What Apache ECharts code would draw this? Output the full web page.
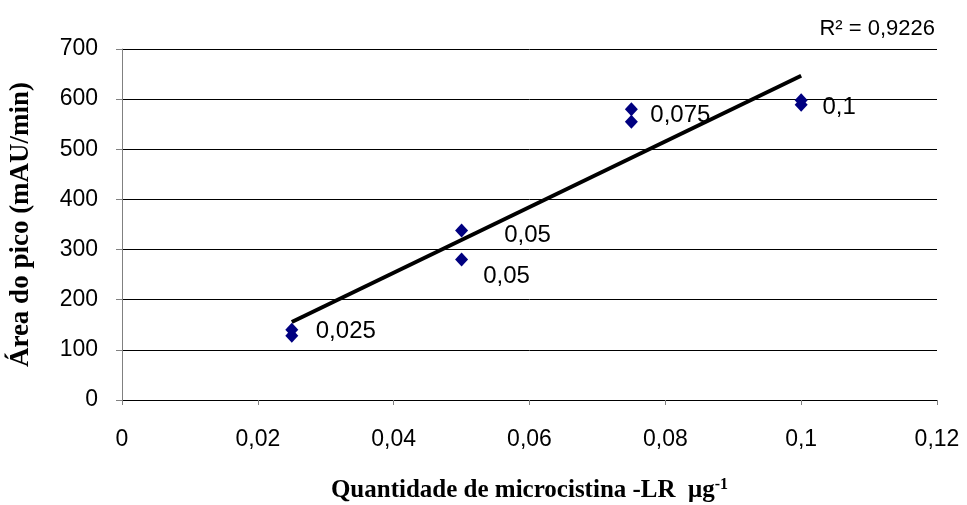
<!DOCTYPE html>
<html><head><meta charset="utf-8">
<script src="https://cdn.jsdelivr.net/npm/echarts@6/dist/echarts.min.js"></script>
<style>html,body{margin:0;padding:0;background:#fff}#c{width:967px;height:505px}</style>
</head><body><div id="c"></div>
<script>
const xValues = [0.025, 0.025, 0.05, 0.05, 0.075, 0.075, 0.1, 0.1];
const yValues = [140, 128, 338, 280, 580, 555, 598, 589];
const pointLabels = ['', '0,025', '0,05', '0,05', '0,075', '', '0,1', ''];
const labelOffsets = [[0,0],[54,-4],[66,5],[45,17],[49,6],[0,0],[38,7],[0,0]];
const r2Text = 'R² = 0,9226';

// linear regression
const n = xValues.length;
const mx = xValues.reduce((a,b)=>a+b,0)/n, my = yValues.reduce((a,b)=>a+b,0)/n;
let sxy=0, sxx=0;
for (let i=0;i<n;i++){ sxy+=(xValues[i]-mx)*(yValues[i]-my); sxx+=(xValues[i]-mx)**2; }
const slope = sxy/sxx, icpt = my - slope*mx;
const xMin = Math.min(...xValues), xMax = Math.max(...xValues);
const trend = [[xMin, icpt+slope*xMin],[xMax, icpt+slope*xMax]];

const pts = xValues.map((x,i)=>({
  value:[x,yValues[i]],
  label:{show: pointLabels[i]!=='', formatter: pointLabels[i], offset: labelOffsets[i]}
}));

const chart = echarts.init(document.getElementById('c'), null, {renderer:'canvas'});
chart.setOption({
  animation:false,
  backgroundColor:'#fff',
  grid:{left:122,right:30,top:49,bottom:105,containLabel:false,outerBoundsMode:'none'},
  xAxis:{type:'value',min:0,max:0.12,interval:0.02,
    axisLine:{show:true,onZero:false,lineStyle:{color:'#000',width:1}},
    axisTick:{show:true,length:5,lineStyle:{color:'#808080'}},
    splitLine:{show:false},
    axisLabel:{color:'#000',fontFamily:'Liberation Sans',fontSize:23,margin:28,
      formatter:v=>String(+v.toFixed(2)).replace('.',',')},
    name:'Quantidade de microcistina -LR  μg{sup|-1}',
    nameLocation:'middle',nameGap:77,
    nameTextStyle:{color:'#000',fontFamily:'Liberation Serif',fontWeight:'bold',fontSize:25,
      rich:{sup:{fontFamily:'Liberation Serif',fontWeight:'bold',fontSize:16,verticalAlign:'top',padding:[0,0,12,0],color:'#000'}}}
  },
  yAxis:{type:'value',min:0,max:700,interval:100,
    axisLine:{show:true,lineStyle:{color:'#808080',width:1}},
    axisTick:{show:true,length:6,lineStyle:{color:'#808080'}},
    splitLine:{show:true,lineStyle:{color:'#000',width:1}},
    axisLabel:{color:'#000',fontFamily:'Liberation Sans',fontSize:23,margin:24},
    name:'Área do pico (mAU/min)',nameLocation:'middle',nameGap:87,
    nameTextStyle:{color:'#000',fontFamily:'Liberation Serif',fontWeight:'bold',fontSize:27}
  },
  series:[
    {type:'line',data:trend,showSymbol:false,symbol:'none',lineStyle:{color:'#000',width:4},z:3,silent:true},
    {type:'scatter',data:pts,symbol:'diamond',symbolSize:[13,14],itemStyle:{color:'#000080',opacity:1},z:4,
      label:{position:'inside',color:'#000',fontFamily:'Liberation Sans',fontSize:24}}
  ],
  graphic:[{type:'text',right:32,top:18,style:{text:r2Text,fill:'#000',fontFamily:'Liberation Sans',fontSize:22}}]
});
</script></body></html>
